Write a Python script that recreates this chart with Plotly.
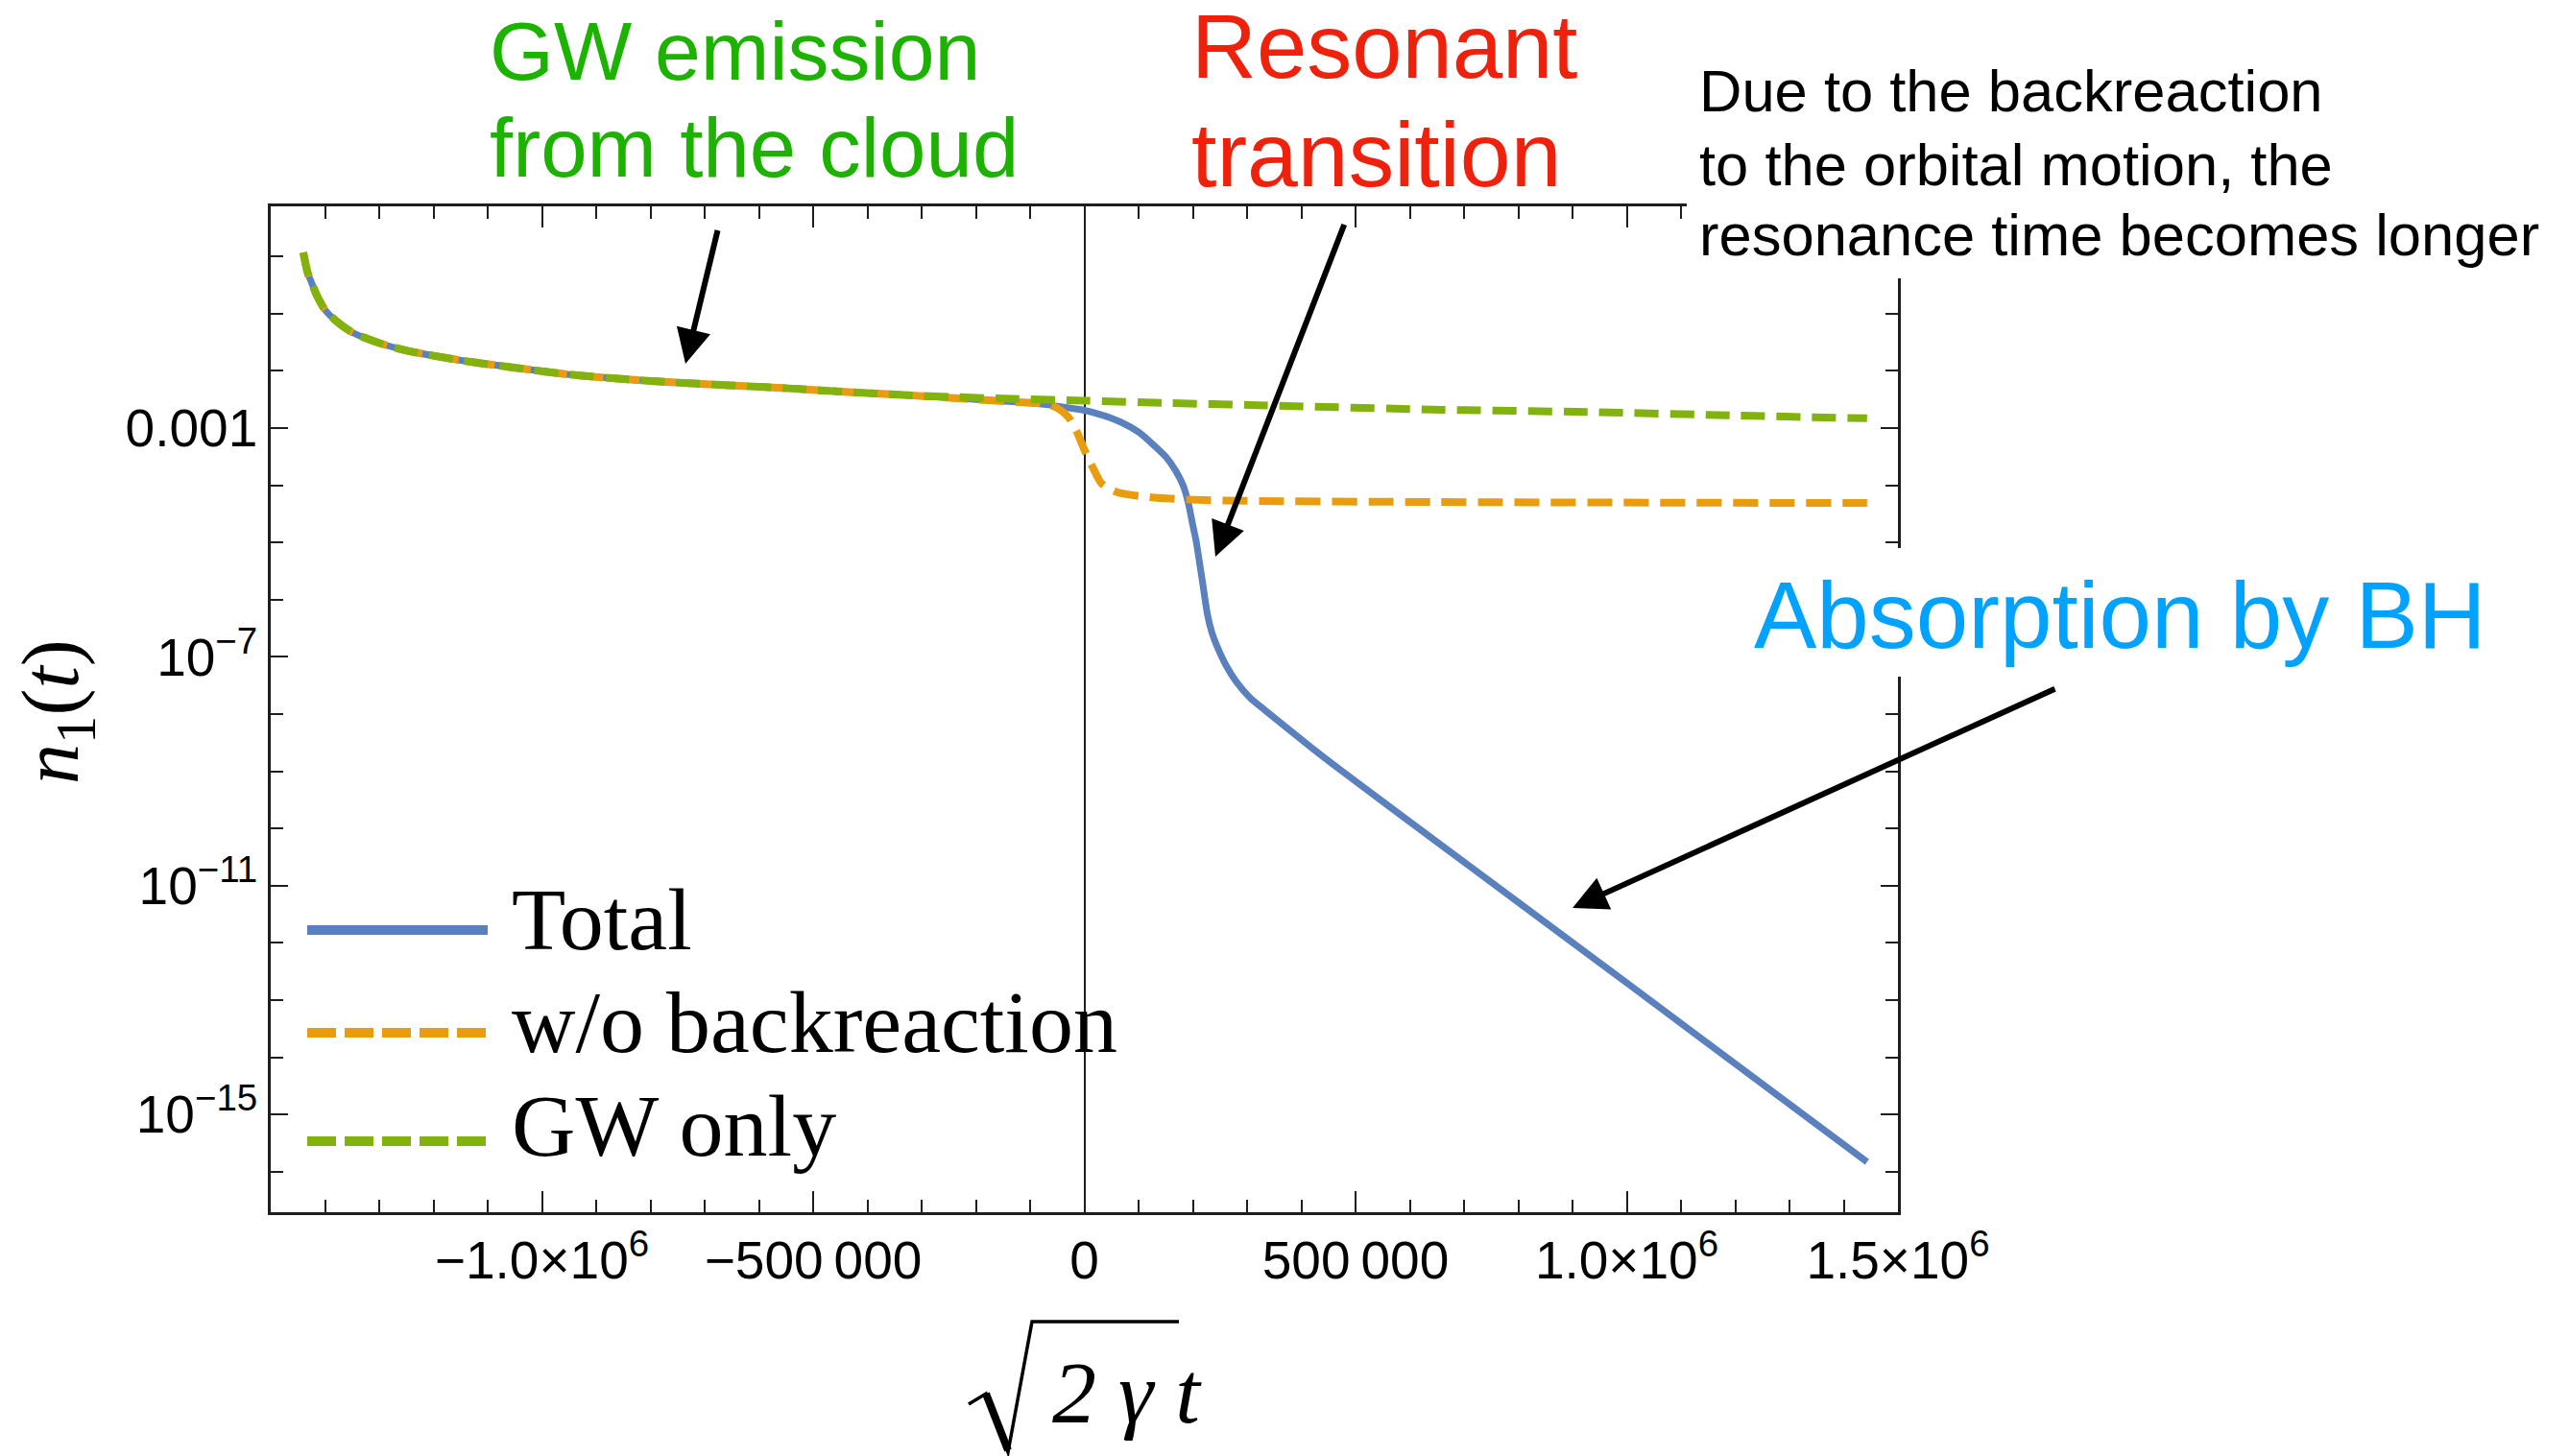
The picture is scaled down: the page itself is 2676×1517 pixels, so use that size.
import plotly.graph_objects as go

# ---------------------------------------------------------------------------
# Occupation number n1(t) of the cloud versus sqrt(2 gamma) t
# ---------------------------------------------------------------------------
SERIES_NAMES = ["Total", "w/o backreaction", "GW only"]

# GW emission only
GW_X = [-1.440e6, -1.432e6, -1.425e6, -1.415e6, -1.400e6, -1.379e6, -1.349e6,
        -1.298e6, -1.247e6, -1.146e6, -1.045e6, -0.943e6, -0.842e6, -0.740e6,
        -0.639e6, -0.538e6, -0.436e6, -0.334e6, -0.233e6, -0.132e6, 0.0,
        0.15e6, 0.32e6, 0.66e6, 0.93e6, 1.20e6, 1.443e6]
GW_N = [1.17, 0.525, 0.355, 0.209, 0.117, 0.0741, 0.0468,
        0.0302, 0.0224, 0.0151, 0.0112, 0.00851, 0.00708, 0.00617,
        0.00550, 0.00490, 0.00427, 0.00380, 0.00347, 0.00324, 0.00302,
        0.00275, 0.00251, 0.00209, 0.00191, 0.00166, 0.00148]

# Total (GW emission + resonant transition + absorption by the BH)
TOTAL_X = [-1.440e6, -1.432e6, -1.425e6, -1.415e6, -1.400e6, -1.379e6, -1.349e6,
           -1.298e6, -1.247e6, -1.146e6, -1.045e6, -0.943e6, -0.842e6, -0.740e6,
           -0.639e6, -0.538e6, -0.436e6, -0.334e6, -0.233e6, -0.132e6, -0.070e6,
           -0.035e6, 0.0, 0.035e6, 0.068e6, 0.100e6, 0.127e6, 0.150e6, 0.168e6,
           0.182e6, 0.1915e6, 0.200e6, 0.206e6, 0.212e6, 0.218e6, 0.227e6,
           0.235e6, 0.2445e6, 0.262e6, 0.280e6, 0.305e6, 0.333e6, 0.421e6,
           0.480e6, 0.657e6, 1.000e6, 1.443e6]
TOTAL_N = [1.17, 0.525, 0.355, 0.209, 0.117, 0.0741, 0.0468,
           0.0302, 0.0224, 0.0151, 0.0112, 0.00851, 0.00708, 0.00617,
           0.00550, 0.00490, 0.00427, 0.00380, 0.00331, 0.00288, 0.00257,
           0.00229, 0.00204, 0.00166, 0.00126, 8.5e-4, 5.13e-4, 3.16e-4, 1.82e-4,
           1.0e-4, 5.0e-5, 2.0e-5, 1.07e-5, 4.7e-6, 2.0e-6, 5.5e-7,
           2.7e-7, 1.55e-7, 6.9e-8, 3.7e-8, 1.95e-8, 1.17e-8, 2.5e-9,
           9.3e-10, 5.2e-11, 2.0e-13, 1.48e-16]

# Without backreaction on the orbital motion
WO_X = [-1.440e6, -1.432e6, -1.425e6, -1.415e6, -1.400e6, -1.379e6, -1.349e6,
        -1.298e6, -1.247e6, -1.146e6, -1.045e6, -0.943e6, -0.842e6, -0.740e6,
        -0.639e6, -0.538e6, -0.436e6, -0.334e6, -0.233e6, -0.132e6, -0.070e6,
        -0.050e6, -0.030e6, -0.015e6, 0.0, 0.015e6, 0.032e6, 0.060e6, 0.120e6,
        0.220e6, 0.650e6, 1.443e6]
WO_N = [1.17, 0.525, 0.355, 0.209, 0.117, 0.0741, 0.0468,
        0.0302, 0.0224, 0.0151, 0.0112, 0.00851, 0.00708, 0.00617,
        0.00550, 0.00490, 0.00427, 0.00380, 0.00331, 0.00288, 0.00263,
        0.00224, 0.00158, 9.1e-4, 4.2e-4, 2.1e-4, 1.07e-4, 7.6e-5, 6.2e-5,
        5.5e-5, 5.1e-5, 4.9e-5]

X_TICK_VALS = [-1.0e6, -5.0e5, 0.0, 5.0e5, 1.0e6, 1.5e6]
X_TICK_TEXT = ["\u22121.0\u00d710<sup>6</sup>", "\u2212500\u2009000", "0",
               "500\u2009000", "1.0\u00d710<sup>6</sup>", "1.5\u00d710<sup>6</sup>"]
Y_TICK_VALS = [1e-3, 1e-7, 1e-11, 1e-15]
Y_TICK_TEXT = ["0.001", "10<sup>\u22127</sup>", "10<sup>\u221211</sup>",
               "10<sup>\u221215</sup>"]
Y_MINOR_VALS = [10.0 ** k for k in range(-16, 1) if k not in (-3, -7, -11, -15)]

# ---------------------------------------------------------------------------
# Styling / layout geometry (pixels on a 2676 x 1517 canvas)
# ---------------------------------------------------------------------------
W, H = 2676, 1517
PL, PR, PT, PB = 282, 1977, 215, 1263          # plot-area edges


def px(x):
    """canvas x pixel -> paper x"""
    return (x - PL) / (PR - PL)


def py(y):
    """canvas y pixel -> paper y"""
    return (PB - y) / (PB - PT)


BLUE = "#5A80BE"
ORANGE = "#E99D0E"
GREEN = "#82B20E"
AXIS = "#1e1e1e"
SANS = "Liberation Sans, Arial, Helvetica, sans-serif"
SERIF = "Liberation Serif, Times New Roman, serif"
COLORS = [BLUE, ORANGE, GREEN]
DASHES = ["solid", "26px,12px", "25px,12px"]

fig = go.Figure()
for name, xs, ys, col, dash, lw in zip(SERIES_NAMES,
                                       [TOTAL_X, WO_X, GW_X],
                                       [TOTAL_N, WO_N, GW_N],
                                       COLORS, DASHES, [7, 8, 8]):
    fig.add_trace(go.Scatter(
        x=xs, y=ys, mode="lines", name=name, showlegend=False,
        line=dict(color=col, width=lw, dash=dash, shape="spline", smoothing=0.7),
        hoverinfo="skip"))

tickfont = dict(family=SANS, size=55, color="black")

fig.update_xaxes(
    range=[-1.5e6, 1.5e6], showgrid=False, automargin=False,
    showline=True, linewidth=2.5, linecolor=AXIS, mirror="ticks",
    zeroline=True, zerolinecolor=AXIS, zerolinewidth=2,
    tickmode="array", tickvals=X_TICK_VALS, ticktext=X_TICK_TEXT,
    ticks="inside", ticklen=22, tickwidth=2, tickcolor=AXIS,
    tickfont=tickfont,
    minor=dict(dtick=1e5, tick0=0, ticks="inside", ticklen=13, tickwidth=2,
               tickcolor=AXIS, showgrid=False),
)
fig.update_yaxes(
    type="log", range=[-16.708, 0.876], showgrid=False, automargin=False,
    showline=True, linewidth=2.5, linecolor=AXIS, mirror="ticks",
    zeroline=False,
    tickmode="array", tickvals=Y_TICK_VALS, ticktext=Y_TICK_TEXT,
    ticks="inside", ticklen=18, tickwidth=2, tickcolor=AXIS,
    tickfont=tickfont,
    minor=dict(tickmode="array", tickvals=Y_MINOR_VALS, ticks="inside",
               ticklen=13, tickwidth=2, tickcolor=AXIS, showgrid=False),
)

shapes = []
annotations = []

# white boxes behind the callout texts that overlap the frame
shapes.append(dict(type="rect", xref="paper", yref="paper", layer="above",
                   x0=px(1757), x1=px(W), y0=py(290), y1=py(0),
                   fillcolor="white", line=dict(width=0)))
shapes.append(dict(type="rect", xref="paper", yref="paper", layer="above",
                   x0=px(1815), x1=px(2600), y0=py(705), y1=py(571),
                   fillcolor="white", line=dict(width=0)))

# legend (drawn inside the frame)
LEG_LINE_Y = [969, 1076, 1189]
LEG_TEXT_Y = [958, 1065, 1173]
LEG_DASH = ["solid", "30px,9px", "30px,9px"]
for name, col, dash, ly, ty in zip(SERIES_NAMES, COLORS, LEG_DASH,
                                   LEG_LINE_Y, LEG_TEXT_Y):
    shapes.append(dict(type="line", xref="paper", yref="paper", layer="above",
                       x0=px(320), x1=px(508), y0=py(ly), y1=py(ly),
                       line=dict(color=col, width=10, dash=dash)))
    annotations.append(dict(xref="paper", yref="paper", x=px(532), y=py(ty),
                            xanchor="left", yanchor="middle", showarrow=False,
                            text=name, borderpad=0,
                            font=dict(family=SERIF, size=92, color="black")))

# x-axis title: radical sign + 2 gamma t
rad = [(1009, 1463), (1027, 1452), (1050, 1513), (1075, 1377), (1228, 1377)]
path = "M " + " L ".join(f"{px(x):.5f},{py(y):.5f}" for x, y in rad)
shapes.append(dict(type="path", xref="paper", yref="paper", path=path,
                   line=dict(color="black", width=3.5)))
shapes.append(dict(type="line", xref="paper", yref="paper",
                   x0=px(1027), y0=py(1452), x1=px(1050), y1=py(1511),
                   line=dict(color="black", width=8)))
annotations.append(dict(xref="paper", yref="paper", x=px(1174), y=py(1451),
                        xanchor="center", yanchor="middle", showarrow=False,
                        text="<i>2 \u03b3 t</i>", borderpad=0,
                        font=dict(family=SERIF, size=92, color="black")))

# y-axis title
annotations.append(dict(xref="paper", yref="paper", x=px(59), y=py(741),
                        xanchor="center", yanchor="middle", showarrow=False,
                        textangle=-90, borderpad=0,
                        text="<i>n</i><sub>1</sub>(<i>t</i>)",
                        font=dict(family=SERIF, size=84, color="black")))


def label(text, x, y, size, color):
    annotations.append(dict(xref="paper", yref="paper", x=px(x), y=py(y),
                            xanchor="left", yanchor="middle", showarrow=False,
                            text=text, borderpad=0,
                            font=dict(family=SANS, size=size, color=color)))


# callout texts (y = vertical centre of each line)
label("GW emission", 509, 53, 86, "#1DB100")
label("from the cloud", 509, 153, 87, "#1DB100")
label("Resonant", 1240, 49, 94, "#EE220C")
label("transition", 1240, 161, 95, "#EE220C")
label("Due to the backreaction", 1769, 95, 61.5, "black")
label("to the orbital motion, the", 1769, 171, 61.5, "black")
label("resonance time becomes longer", 1769, 244, 61.5, "black")
label("Absorption by BH", 1826, 641, 98, "#00A2FF")


def arrow(tip, tail):
    annotations.append(dict(xref="paper", yref="paper", x=px(tip[0]), y=py(tip[1]),
                            ax=tail[0] - tip[0], ay=tail[1] - tip[1],
                            axref="pixel", ayref="pixel", text=" ",
                            showarrow=True, arrowhead=2, arrowsize=1.2,
                            arrowwidth=6, arrowcolor="black", standoff=0,
                            font=dict(size=1)))


arrow((714, 379), (748, 238))
arrow((1266, 580), (1401, 232))
arrow((1638, 946), (2142, 717))

fig.update_layout(
    width=W, height=H, autosize=False,
    margin=dict(l=PL, r=W - PR, t=PT, b=H - PB, pad=0),
    paper_bgcolor="white", plot_bgcolor="white",
    showlegend=False, shapes=shapes, annotations=annotations,
)

fig.write_html("out.html", config={"displayModeBar": False})
